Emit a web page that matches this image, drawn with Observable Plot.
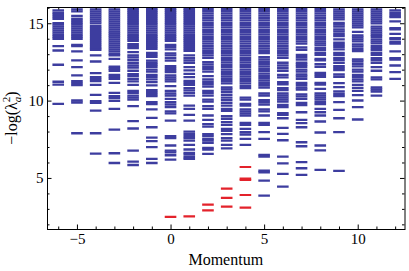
<!DOCTYPE html>
<html>
<head>
<meta charset="utf-8">
<script src="https://cdn.jsdelivr.net/npm/d3@7"></script>
<script src="https://cdn.jsdelivr.net/npm/@observablehq/plot@0.6"></script>
<style>
  html, body { margin: 0; padding: 0; background: #fff; }
  svg { display: block; }
</style>
</head>
<body>
<div id="chart"></div>
<script>
// ---- data: entanglement levels -log(lambda_a^2) per momentum ----
const momenta = [-6,-5,-4,-3,-2,-1,0,1,2,3,4,5,6,7,8,9,10,11,12];

const blueM6 = [15.86,15.71,15.58,15.45,15.32,15.04,14.94,14.81,14.68,14.55,14.42,14.29,14.16,14.03,13.55,13.27,12.35,11.25,11.07,9.82];
const blueM5 = [15.93,15.80,15.50,15.32,15.19,15.06,14.94,14.81,14.68,14.55,14.42,14.29,14.16,14.03,13.64,13.55,13.21,12.63,12.20,11.66,11.29,11.16,11.03,10.04,9.91,7.92];
const blueM4 = [15.93,15.80,15.67,15.54,15.41,15.28,15.15,15.02,14.85,14.72,14.59,14.46,14.33,14.20,14.07,13.94,13.81,13.68,13.55,13.42,13.32,12.95,12.56,11.81,11.55,11.42,11.29,11.05,10.40,9.99,9.89,9.39,7.92,6.61];
const blueM3 = [15.93,15.80,15.67,15.54,15.41,15.28,15.15,15.02,14.89,14.76,14.63,14.50,14.37,14.24,14.12,13.99,13.86,13.73,13.60,13.47,13.34,13.21,13.06,12.95,12.73,12.22,12.09,11.96,11.70,11.57,11.44,11.18,10.53,10.32,10.19,10.02,9.50,8.16,6.63,6.00];
const blueM2 = [15.97,15.84,15.71,15.58,15.45,15.32,15.19,15.06,14.94,14.81,14.68,14.55,14.42,14.29,14.16,14.03,13.90,13.68,13.55,13.42,13.17,12.95,12.82,12.67,12.48,12.30,12.17,11.96,11.74,11.61,11.44,11.27,11.05,10.66,10.53,10.36,10.23,10.10,9.67,8.70,8.23,6.80,6.09,5.87];
const blueM1 = [15.97,15.84,15.71,15.58,15.45,15.32,15.19,15.06,14.94,14.81,14.68,14.55,14.42,14.29,14.16,14.03,13.90,13.77,13.64,13.51,13.38,13.12,12.99,12.86,12.61,12.48,12.35,12.22,12.04,11.91,11.70,11.57,11.40,11.22,11.01,10.71,10.58,10.45,10.32,9.93,9.80,9.46,8.92,8.31,7.64,7.41,7.02,6.26,6.00];
const blueP0 = [15.97,15.84,15.71,15.58,15.45,15.32,15.19,15.06,14.94,14.81,14.68,14.55,14.42,14.29,14.16,14.03,13.90,13.64,13.51,13.34,13.08,12.95,12.78,12.61,12.26,12.13,12.00,11.87,11.66,11.53,11.40,11.27,10.97,10.66,10.49,10.36,10.15,9.93,9.78,9.61,9.33,9.20,8.74,7.73,7.60,7.13,6.80,6.69,6.50,6.22];
const blueP1 = [15.97,15.84,15.71,15.58,15.45,15.32,15.19,15.06,14.94,14.81,14.68,14.55,14.42,14.29,14.16,14.03,13.90,13.77,13.64,13.51,13.38,13.25,12.95,12.78,12.63,12.48,12.20,11.98,11.76,11.55,11.31,11.18,11.05,10.84,10.69,10.53,10.36,9.71,9.50,9.11,8.74,8.03,7.88,7.73,7.60,7.45,7.17,6.87,6.65,6.54,6.37,6.26];
const blueP2 = [15.97,15.82,15.67,15.52,15.37,15.22,15.06,14.91,14.76,14.61,14.46,14.31,14.16,14.01,13.86,13.71,13.55,13.40,13.25,13.10,12.95,12.80,12.52,12.37,12.22,12.07,11.91,11.61,11.40,11.25,11.09,10.94,10.66,10.51,10.36,10.10,9.97,9.67,9.50,9.07,8.79,8.51,8.35,7.86,7.73,7.56,7.45,7.30,6.97,6.87,6.59];
const blueP3 = [15.97,15.82,15.67,15.52,15.37,15.22,15.06,14.91,14.76,14.61,14.46,14.31,14.16,14.01,13.86,13.71,13.55,13.40,13.25,13.10,12.95,12.80,12.65,12.50,12.35,12.20,12.04,11.89,11.74,11.59,11.44,11.29,11.14,10.88,10.75,10.58,10.40,10.23,10.06,9.89,9.71,9.50,9.37,9.02,8.85,8.64,8.46,8.20,8.07,7.86,7.60,7.45,7.17,6.95];
const blueP4 = [15.97,15.82,15.67,15.52,15.37,15.22,15.06,14.91,14.76,14.61,14.46,14.31,14.16,14.01,13.86,13.71,13.55,13.40,13.25,13.10,12.95,12.80,12.65,12.50,12.35,12.20,12.04,11.89,11.74,11.59,11.44,11.29,11.14,10.99,10.84,10.23,10.10,9.82,9.71,9.46,9.33,9.20,9.07,8.59,8.46,8.20,7.99,7.84,7.56,7.17];
const blueP5 = [15.97,15.82,15.67,15.52,15.37,15.22,15.06,14.91,14.76,14.61,14.46,14.31,14.16,14.01,13.86,13.71,13.55,13.40,13.25,13.10,12.84,12.69,12.54,12.39,12.24,12.09,11.94,11.78,11.63,11.48,11.33,11.18,11.03,10.88,10.49,10.36,10.06,9.93,9.78,9.46,9.33,9.07,8.59,8.46,7.99,7.56,6.52,6.41,5.51,5.40,4.86,3.89];
const blueP6 = [15.97,15.82,15.67,15.52,15.37,15.22,15.06,14.91,14.76,14.61,14.46,14.31,14.16,14.01,13.86,13.71,13.55,13.40,13.25,13.10,12.95,12.80,12.48,12.30,12.13,11.96,11.70,11.53,11.22,11.09,10.84,10.71,10.49,10.36,10.23,10.10,9.97,9.76,9.61,9.22,9.11,8.89,8.27,7.88,7.47,6.41,5.98,5.29,4.47];
const blueP7 = [15.97,15.82,15.67,15.52,15.37,15.22,15.06,14.91,14.76,14.61,14.46,14.31,14.16,14.01,13.86,13.71,13.47,13.32,12.99,12.84,12.69,12.48,12.35,12.22,12.04,11.91,11.72,11.59,11.44,11.18,11.05,10.88,10.75,10.43,10.30,10.15,9.89,9.74,9.28,8.79,8.57,8.31,7.34,7.08,6.05,5.66,5.23];
const blueP8 = [15.97,15.82,15.67,15.52,15.37,15.22,15.06,14.91,14.76,14.61,14.46,14.31,14.16,14.01,13.86,13.73,13.60,13.42,13.30,13.12,12.99,12.73,12.63,12.39,12.22,11.83,11.70,11.57,11.18,11.07,10.79,10.49,10.36,10.23,10.10,9.93,9.80,9.50,9.28,9.07,8.68,7.97,7.13,6.82,5.55];
const blueP9 = [15.93,15.80,15.67,15.54,15.41,15.28,15.06,14.94,14.81,14.63,14.50,14.33,14.20,13.99,13.77,13.64,13.51,13.34,13.12,12.99,12.80,12.67,12.48,12.26,12.13,12.00,11.72,11.57,11.16,10.90,10.62,10.45,10.32,9.93,9.43,8.89,7.99,5.49];
const blueP10 = [15.93,15.80,15.67,15.54,15.41,15.28,15.15,15.02,14.89,14.76,14.48,14.24,14.12,13.99,13.86,13.66,13.53,13.36,13.23,12.69,12.56,12.39,12.24,12.04,11.91,11.70,11.57,11.40,11.27,11.05,10.86,10.66,10.38,10.04,9.61,8.81];
const blueP11 = [15.93,15.80,15.67,15.54,15.41,15.28,15.15,15.02,14.81,14.68,14.55,14.42,14.29,14.16,13.99,13.86,13.73,13.55,13.42,13.30,13.12,12.99,12.78,12.65,12.48,12.20,11.96,11.53,11.40,10.88,10.75,10.62,10.36];
const blueP12 = [15.86,15.71,15.55,15.43,15.15,14.72,14.63,14.35,14.07,13.99,13.81,13.71,13.21,12.78,12.69,12.30,11.87,11.44];

const redP0 = [2.51];
const redP1 = [2.55];
const redP2 = [2.94,3.31];
const redP3 = [3.18,3.74,4.34];
const redP4 = [3.11,3.93,4.90,4.99,5.74];

const xMajorTicks = [-5,0,5,10];
const yMajorTicks = [5,10,15];
const xMinorTicks = [-6,-4,-3,-2,-1,1,2,3,4,6,7,8,9,11,12];
const yMinorTicks = [2,3,4,6,7,8,9,11,12,13,14,16];

const xLabel = "Momentum";

// ---- build tables ----
const blueCols = [blueM6,blueM5,blueM4,blueM3,blueM2,blueM1,blueP0,blueP1,blueP2,blueP3,blueP4,blueP5,blueP6,blueP7,blueP8,blueP9,blueP10,blueP11,blueP12];
const redCols = {0: redP0, 1: redP1, 2: redP2, 3: redP3, 4: redP4};
const blueRows = [];
blueCols.forEach((arr, i) => arr.forEach(v => blueRows.push({m: momenta[i], v})));
const redRows = [];
Object.entries(redCols).forEach(([m, arr]) => arr.forEach(v => redRows.push({m: +m, v})));

const W = 409, H = 271;
const mL = 47, mR = 4.5, mT = 7, mB = 42;
const plotW = W - mL - mR, plotH = H - mT - mB;
const half = 0.31;
const blue = "#3d3d9f", red = "#e3222b";
const serif = "'Liberation Serif', 'DejaVu Serif', serif";

const chart = Plot.plot({
  width: W, height: H,
  marginLeft: mL, marginRight: mR, marginTop: mT, marginBottom: mB,
  style: {fontFamily: serif, fontSize: "15px", color: "#000", background: "#fff"},
  x: {domain: [-6.6, 12.5]},
  y: {domain: [1.7, 16.05]},
  marks: [
    Plot.ruleY(blueRows, {y: "v", x1: d => d.m - half, x2: d => d.m + half, stroke: blue, strokeWidth: 2.3, clip: true}),
    Plot.ruleY(redRows, {y: "v", x1: d => d.m - half, x2: d => d.m + half, stroke: red, strokeWidth: 2.2, clip: true}),
    // inward ticks on all four sides
    Plot.ruleX(xMajorTicks, {x: d => d, insetTop: plotH - 4.5, stroke: "#000"}),
    Plot.ruleX(xMinorTicks, {x: d => d, insetTop: plotH - 2.5, stroke: "#000"}),
    Plot.ruleX(xMajorTicks, {x: d => d, insetBottom: plotH - 4.5, stroke: "#000"}),
    Plot.ruleX(xMinorTicks, {x: d => d, insetBottom: plotH - 2.5, stroke: "#000"}),
    Plot.ruleY(yMajorTicks, {y: d => d, insetRight: plotW - 4.5, stroke: "#000"}),
    Plot.ruleY(yMinorTicks, {y: d => d, insetRight: plotW - 2.5, stroke: "#000"}),
    Plot.ruleY(yMajorTicks, {y: d => d, insetLeft: plotW - 4.5, stroke: "#000"}),
    Plot.ruleY(yMinorTicks, {y: d => d, insetLeft: plotW - 2.5, stroke: "#000"}),
    Plot.frame({stroke: "#000", strokeWidth: 1}),
    Plot.axisX(xMajorTicks, {tickSize: 0, tickPadding: 4, label: null, fontSize: 15}),
    Plot.axisY(yMajorTicks, {tickSize: 0, tickPadding: 4, label: null, fontSize: 15})
  ]
});

document.getElementById("chart").appendChild(chart);

const svg = d3.select(chart);
// x-axis title
svg.append("text")
  .attr("x", mL + plotW / 2)
  .attr("y", 265)
  .attr("text-anchor", "middle")
  .attr("font-family", serif)
  .attr("font-size", 16)
  .attr("fill", "#000")
  .text(xLabel);

// y-axis title: −log(λ²ₐ) with stacked super/subscript
const yl = svg.append("text")
  .attr("transform", `translate(17,${mT + plotH / 2}) rotate(-90)`)
  .attr("text-anchor", "middle")
  .attr("font-family", serif)
  .attr("font-size", 16)
  .attr("fill", "#000");
yl.append("tspan").text("\u2212log(\u03bb");
yl.append("tspan").attr("font-size", 11).attr("dy", -7).text("2");
yl.append("tspan").attr("font-size", 11).attr("font-style", "italic").attr("dx", -5.5).attr("dy", 11).text("a");
yl.append("tspan").attr("dy", -4).text(")");
</script>
</body>
</html>
